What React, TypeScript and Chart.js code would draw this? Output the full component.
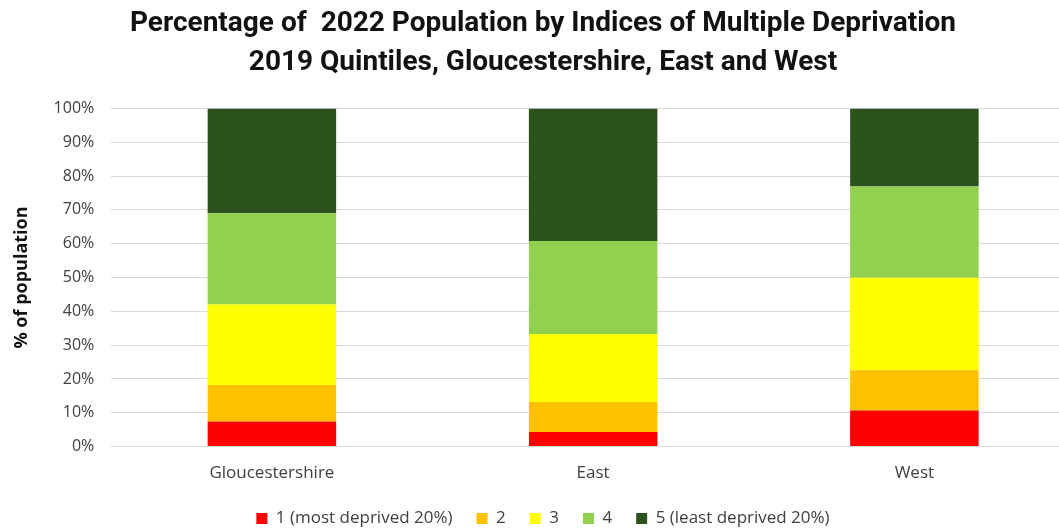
import React, { useEffect, useRef } from "react";
import { Chart, registerables } from "chart.js";

Chart.register(...registerables);

const categories = ["Gloucestershire", "East", "West"];
const quintile1 = [7.4, 4.3, 10.7];
const quintile2 = [10.8, 8.9, 11.9];
const quintile3 = [23.8, 20.1, 27.3];
const quintile4 = [27.0, 27.5, 27.0];
const quintile5 = [31.0, 39.2, 23.1];
const seriesLabels = [
  "1 (most deprived 20%)",
  "2",
  "3",
  "4",
  "5 (least deprived 20%)",
];
const seriesColors = ["#FF0000", "#FFC000", "#FFFF00", "#92D050", "#2C531C"];
const titleLines = [
  "Percentage of  2022 Population by Indices of Multiple Deprivation",
  "2019 Quintiles, Gloucestershire, East and West",
];

const bodyFont = "'Open Sans', 'Liberation Sans', sans-serif";

export default function App() {
  const ref = useRef<HTMLCanvasElement | null>(null);
  useEffect(() => {
    if (!ref.current) return;
    const values = [quintile1, quintile2, quintile3, quintile4, quintile5];
    const chart = new Chart(ref.current, {
      type: "bar",
      data: {
        labels: categories,
        datasets: values.map((v, i) => ({
          label: seriesLabels[i],
          data: v,
          backgroundColor: seriesColors[i],
          borderWidth: 0,
          categoryPercentage: 1,
          barPercentage: 0.4,
        })),
      },
      options: {
        animation: false,
        responsive: true,
        maintainAspectRatio: false,
        layout: { padding: { left: 11, right: 7, top: 4, bottom: -8 } },
        plugins: {
          title: {
            display: true,
            text: titleLines,
            color: "#111111",
            font: { family: "'Roboto', sans-serif", size: 28, weight: "bold", lineHeight: 1.4 },
            padding: { top: 0, bottom: 26 },
          },
          legend: {
            position: "bottom",
            labels: {
              boxWidth: 11,
              boxHeight: 11,
              color: "#404040",
              padding: 24,
              font: { family: bodyFont, size: 17 },
            },
          },
          tooltip: { enabled: false },
        },
        scales: {
          x: {
            stacked: true,
            grid: { display: false },
            border: { display: false },
            ticks: {
              color: "#404040",
              font: { family: bodyFont, size: 17 },
              padding: 8,
            },
            afterFit: (scale: any) => {
              scale.height -= 5;
            },
          },
          y: {
            stacked: true,
            min: 0,
            max: 100,
            grid: { color: "#D9D9D9", lineWidth: 1, drawTicks: false },
            border: { display: false },
            ticks: {
              stepSize: 10,
              color: "#404040",
              padding: 17,
              font: { family: bodyFont, size: 16 },
              callback: (v: any) => v + "%",
            },
            title: {
              display: true,
              text: "% of population",
              color: "#111111",
              font: { family: bodyFont, size: 18, weight: "bold" },
              padding: { top: 0, bottom: 4 },
            },
          },
        },
      },
    });
    return () => chart.destroy();
  }, []);
  return (
    <div style={{ position: "fixed", left: 0, top: 0, width: 1082, height: 529, background: "#fff" }}>
      <canvas ref={ref} />
    </div>
  );
}
